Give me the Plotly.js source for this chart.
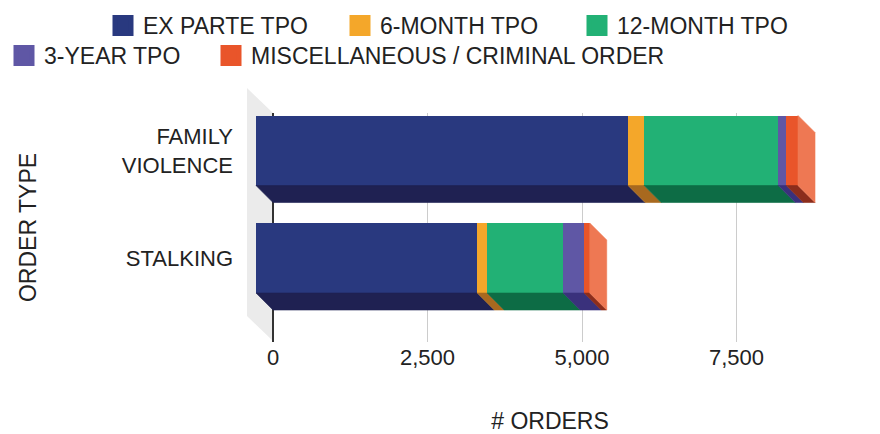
<!DOCTYPE html>
<html><head><meta charset="utf-8">
<script src="https://cdn.plot.ly/plotly-3.0.1.min.js"></script>
<style>html,body{margin:0;padding:0;background:#fff}#chart{width:880px;height:434px}</style>
</head><body><div id="chart"></div>
<script>
// ---- data ----
const categories = ['FAMILY VIOLENCE', 'STALKING'];
const categoryLabels = ['FAMILY<br>VIOLENCE', 'STALKING'];
const seriesNames = ['EX PARTE TPO', '6-MONTH TPO', '12-MONTH TPO', '3-YEAR TPO', 'MISCELLANEOUS / CRIMINAL ORDER'];
const exParte = [6020, 3580];
const sixMonth = [260, 160];
const twelveMonth = [2170, 1230];
const threeYear = [130, 340];
const miscCriminal = [190, 90];
const xTickVals = [0, 2500, 5000, 7500];

// ---- style ----
const series = [exParte, sixMonth, twelveMonth, threeYear, miscCriminal];
const frontColors = ['#29397f', '#f4a72a', '#22b175', '#5f57a5', '#e9552a'];
const bottomColors = ['#1f2152', '#a8691f', '#0d6c45', '#3a317c', '#8c2d1c'];
const sideColor = '#ee7853';
const legendOf = ['legend', 'legend', 'legend', 'legend2', 'legend3'];
const FONT = 'Liberation Sans, Arial, sans-serif';
const TXT = '#222';

const W = 880, H = 434, ML = 240, MR = 20, MT = 113, MB = 92;
const PW = W - ML - MR, PH = H - MT - MB;
const px2x = p => (p - ML) / PW;
const py2y = p => (H - MB - p) / PH;

const xRange = [-534, 9498];          // back plane (axis, grid)
const depthPx = 17;
const unitPx = PW / (xRange[1] - xRange[0]);
const dxU = depthPx / unitPx;
const x2Range = [xRange[0] + dxU, xRange[1] + dxU]; // front plane
const yRange = [-0.781, 1.349];
const yUnitPx = PH / (yRange[1] - yRange[0]);
const dyU = depthPx / yUnitPx;
const barW = 70 / yUnitPx;

const yPos = categories.map((c, i) => categories.length - 1 - i);

const traces = [];
// legend entries (on the main axes so that the main subplot is created)
seriesNames.forEach((n, s) => {
  traces.push({
    type: 'scatter', mode: 'markers', name: n, x: [null], y: [null],
    xaxis: 'x', yaxis: 'y', legend: legendOf[s],
    marker: {symbol: 'square', size: 16, color: frontColors[s], line: {color: frontColors[s], width: 5}},
    hoverinfo: 'skip'
  });
});
// front faces (stacked bars)
series.forEach((vals, s) => {
  traces.push({
    type: 'bar', orientation: 'h', name: seriesNames[s],
    x: vals, y: yPos, width: barW, xaxis: 'x2', yaxis: 'y',
    marker: {color: frontColors[s], line: {width: 0}},
    showlegend: false, hoverinfo: 'x+name'
  });
});
// bottom and side faces
categories.forEach((c, ci) => {
  let cum = 0;
  const yb = yPos[ci] - barW / 2, yt = yPos[ci] + barW / 2;
  series.forEach((vals, s) => {
    const x0 = cum, x1 = cum + vals[ci];
    cum = x1;
    traces.push({
      type: 'scatter', mode: 'lines', fill: 'toself', xaxis: 'x2', yaxis: 'y',
      x: [x0, x1, x1 + dxU, x0 + dxU, x0],
      y: [yb, yb, yb - dyU, yb - dyU, yb],
      fillcolor: bottomColors[s], line: {color: bottomColors[s], width: 0.6},
      showlegend: false, hoverinfo: 'skip'
    });
    if (s === series.length - 1) {
      traces.push({
        type: 'scatter', mode: 'lines', fill: 'toself', xaxis: 'x2', yaxis: 'y',
        x: [x1, x1 + dxU, x1 + dxU, x1, x1],
        y: [yt, yt - dyU, yb - dyU, yb, yt],
        fillcolor: sideColor, line: {color: sideColor, width: 0.6},
        showlegend: false, hoverinfo: 'skip'
      });
    }
  });
});

const legendBase = {
  orientation: 'h', xanchor: 'left', yanchor: 'top', traceorder: 'normal',
  font: {family: FONT, size: 23, color: TXT}, bgcolor: 'rgba(0,0,0,0)',
  itemclick: false, itemdoubleclick: false, tracegroupgap: 0
};

const layout = {
  width: W, height: H,
  margin: {l: ML, r: MR, t: MT, b: MB, autoexpand: false},
  paper_bgcolor: '#fff', plot_bgcolor: '#fff',
  font: {family: FONT, color: TXT},
  barmode: 'stack',
  showlegend: true,
  legend: Object.assign({}, legendBase, {x: px2x(103), y: py2y(4), entrywidth: 192}),
  legend2: Object.assign({}, legendBase, {x: px2x(4), y: py2y(34)}),
  legend3: Object.assign({}, legendBase, {x: px2x(211), y: py2y(34)}),
  xaxis: {
    range: xRange, tickvals: xTickVals, tickformat: ',d',
    showgrid: true, gridcolor: '#cccccc', gridwidth: 1,
    zeroline: true, zerolinecolor: '#333333', zerolinewidth: 1.5,
    showline: false, ticks: '', tickfont: {family: FONT, size: 22, color: TXT},
    title: {text: '# ORDERS', font: {family: FONT, size: 23, color: TXT}, standoff: 44},
    fixedrange: true
  },
  xaxis2: {range: x2Range, overlaying: 'x', anchor: 'y', visible: false, fixedrange: true},
  yaxis: {
    range: yRange, tickvals: yPos, ticktext: categoryLabels,
    showgrid: false, zeroline: false, showline: false, ticks: '',
    ticklabelstandoff: 6,
    tickfont: {family: FONT, size: 22, color: TXT},
    title: {text: 'ORDER TYPE', font: {family: FONT, size: 23, color: TXT}, standoff: 78},
    fixedrange: true
  },
  shapes: [{
    type: 'path', xref: 'paper', yref: 'paper', layer: 'below',
    path: 'M' + px2x(247) + ',' + py2y(88) + ' L' + px2x(273) + ',' + py2y(113) +
          ' L' + px2x(273) + ',' + py2y(341) + ' L' + px2x(247) + ',' + py2y(316) + ' Z',
    fillcolor: '#ebebeb', line: {width: 0}
  }]
};

Plotly.newPlot('chart', traces, layout, {displayModeBar: false, staticPlot: true});
</script>
</body></html>
